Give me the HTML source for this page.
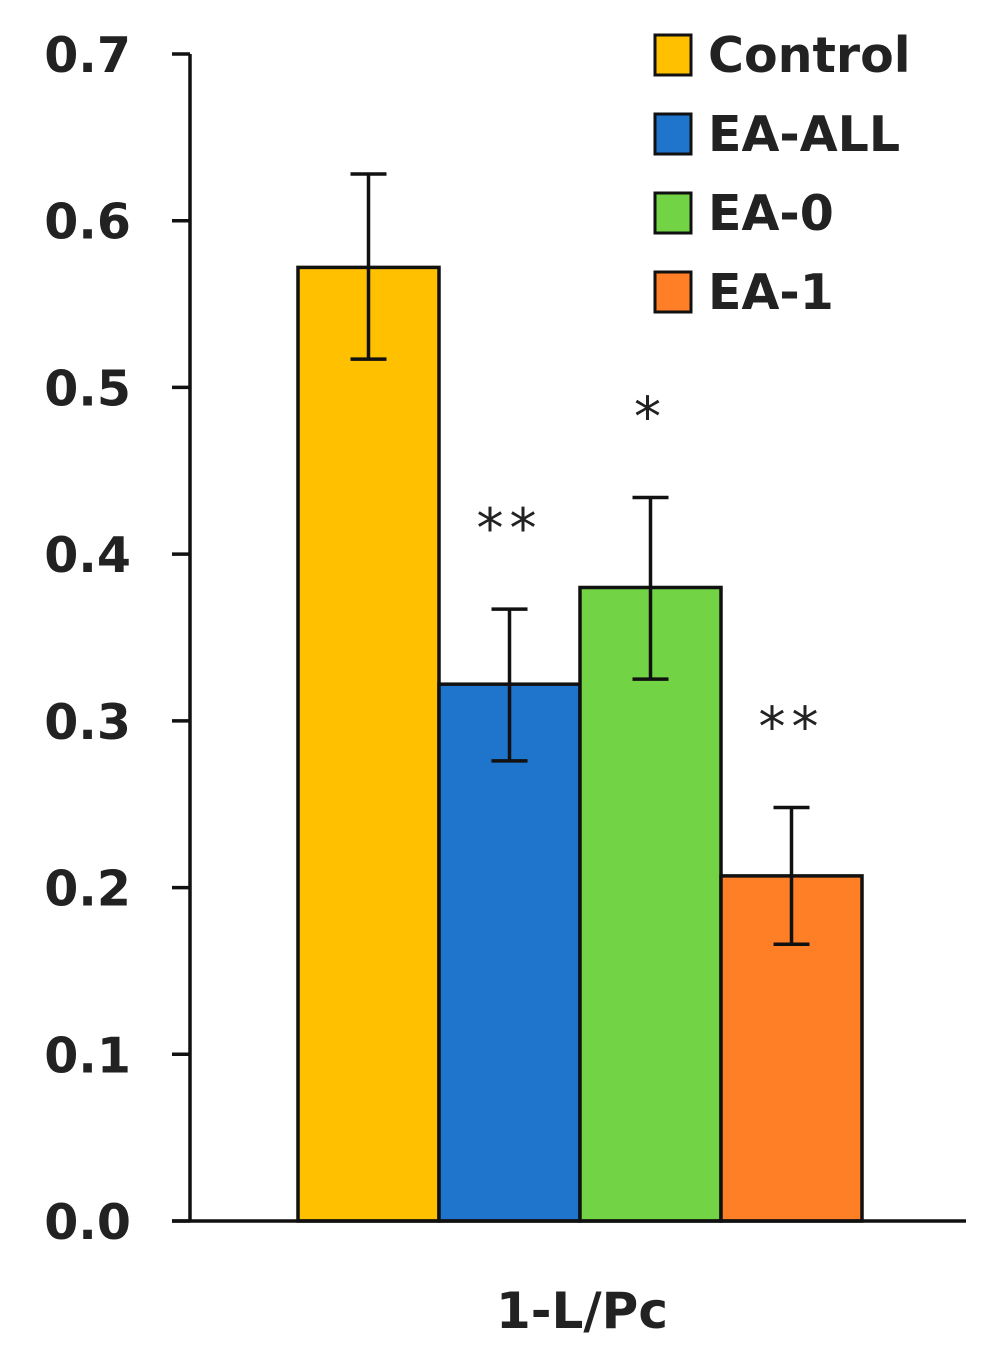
<!DOCTYPE html>
<html><head><meta charset="utf-8"><style>
html,body{margin:0;padding:0;background:#fff;}
svg{display:block;}
text{font-family:"DejaVu Sans","Liberation Sans",sans-serif;font-weight:bold;fill:#222;}
</style></head><body>
<svg id="chart" width="1004" height="1358" viewBox="0 0 1004 1358" xmlns="http://www.w3.org/2000/svg"></svg>
<script>
const categories = ["Control","EA-ALL","EA-0","EA-1"];
const values = [0.572, 0.322, 0.380, 0.207];
const errUpper = [0.628, 0.367, 0.434, 0.248];
const errLower = [0.517, 0.276, 0.325, 0.166];
const stars = ["", "**", "*", "**"];
const colors = ["#FFC000","#1F74CB","#72D444","#FF7F27"];
const yTicks = [0.0,0.1,0.2,0.3,0.4,0.5,0.6,0.7];
const yTickLabels = ["0.0","0.1","0.2","0.3","0.4","0.5","0.6","0.7"];

const svg = document.getElementById('chart');
const NS = 'http://www.w3.org/2000/svg';
const y0 = 1221, yTop = 54, vMax = 0.7;
const y = v => y0 - (v / vMax) * (y0 - yTop);
const barStart = 298, barW = 141;
const xBar = i => barStart + i * barW;
function mk(tag, attrs, parent) {
  const e = document.createElementNS(NS, tag);
  for (const k in attrs) e.setAttribute(k, attrs[k]);
  (parent || svg).appendChild(e);
  return e;
}
categories.forEach((c, i) => {
  const r = mk('rect', {x: xBar(i), y: y(values[i]), width: barW, height: y0 - y(values[i]), fill: colors[i], stroke: '#111', 'stroke-width': 3.5});
  
  
  const cx = xBar(i) + barW / 2;
  const g = mk('g', {stroke: '#111', 'stroke-width': 3.5});
  
  
  mk('line', {x1: cx, x2: cx, y1: y(errUpper[i]), y2: y(errLower[i])}, g);
  mk('line', {x1: cx - 18, x2: cx + 18, y1: y(errUpper[i]), y2: y(errUpper[i])}, g);
  mk('line', {x1: cx - 18, x2: cx + 18, y1: y(errLower[i]), y2: y(errLower[i])}, g);
  if (stars[i]) {
    const t = mk('text', {x: cx, y: y(errUpper[i]) - 62, 'text-anchor': 'middle', 'font-size': 54, style: 'font-weight:normal;letter-spacing:6px'});
    t.textContent = stars[i];
    
    
  }
});
const ax = mk('line', {x1: 190, x2: 190, y1: yTop, y2: y0, stroke: '#111', 'stroke-width': 3.5});


const xa = mk('line', {x1: 172, x2: 966, y1: y0, y2: y0, stroke: '#111', 'stroke-width': 3.5});


yTicks.forEach((v, i) => {
  mk('line', {x1: 172, x2: 190, y1: y(v), y2: y(v), stroke: '#111', 'stroke-width': 3.5});
  const t = mk('text', {x: 131, y: y(v) + 18, 'text-anchor': 'end', 'font-size': 49});
  t.textContent = yTickLabels[i];
  
  
});
const xl = mk('text', {x: 582, y: 1328, 'text-anchor': 'middle', 'font-size': 50});
xl.textContent = '1-L/Pc';


categories.forEach((c, i) => {
  const ly = 35 + i * 79;
  const r = mk('rect', {x: 655, y: ly, width: 36, height: 40, fill: colors[i], stroke: '#111', 'stroke-width': 3});
  
  
  const t = mk('text', {x: 708, y: ly + 37, 'font-size': 49});
  t.textContent = c;
  
  
});
</script>
</body></html>
